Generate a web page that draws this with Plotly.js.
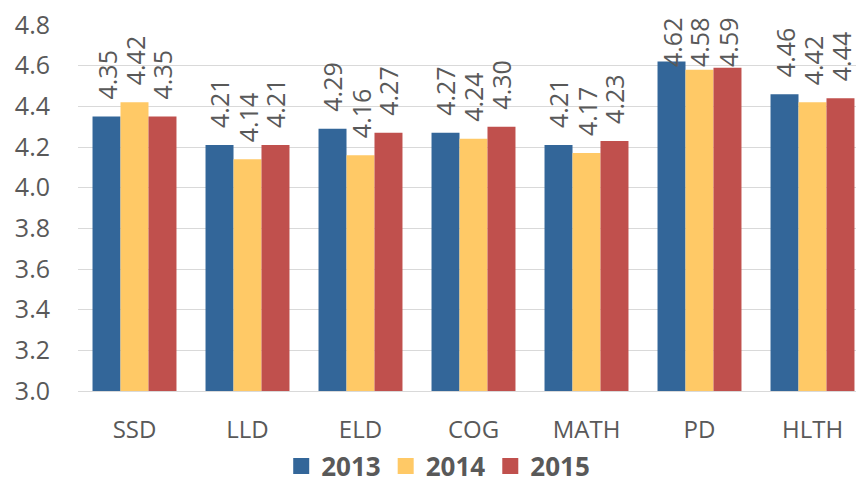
<!DOCTYPE html>
<html>
<head>
<meta charset="utf-8">
<script src="https://cdn.plot.ly/plotly-3.0.1.min.js"></script>
<style>
  html, body { margin: 0; padding: 0; background: #ffffff; }
  #chart { width: 856px; height: 487px; }
</style>
</head>
<body>
<div id="chart"></div>
<script>
const categories = ["SSD", "LLD", "ELD", "COG", "MATH", "PD", "HLTH"];
const seriesNames = ["2013", "2014", "2015"];
const values2013 = [4.35, 4.21, 4.29, 4.27, 4.21, 4.62, 4.46];
const values2014 = [4.42, 4.14, 4.16, 4.24, 4.17, 4.58, 4.42];
const values2015 = [4.35, 4.21, 4.27, 4.30, 4.23, 4.59, 4.44];
const yTickValues = [3.0, 3.2, 3.4, 3.6, 3.8, 4.0, 4.2, 4.4, 4.6, 4.8];
const yTickLabels = ["3.0", "3.2", "3.4", "3.6", "3.8", "4.0", "4.2", "4.4", "4.6", "4.8"];

const colors = ["#336699", "#FFC966", "#C0504D"];
const allValues = [values2013, values2014, values2015];
const textColor = "#595959";
const fontFamily = "'Open Sans', 'Noto Sans', sans-serif";

// layout constants
const W = 856, H = 487;
const M = { l: 78, r: 0, t: 25, b: 96 };
const yMin = 3.0, yMax = 4.8;
const xRange = [-0.5, 6.385];
const bargap = 0.257;
const plotW = W - M.l - M.r, plotH = H - M.t - M.b;
const catPx = plotW / (xRange[1] - xRange[0]);
const barPx = catPx * (1 - bargap) / allValues.length;
const labelGap = 17;      // px between bar top and label
const labelLen = 52;      // approx rotated label length
const labelTopMin = 15;   // labels may not rise above this px from the top

const traces = allValues.map((vals, i) => ({
  type: "bar",
  name: seriesNames[i],
  x: categories,
  y: vals,
  marker: { color: colors[i], line: { width: 0 } },
  showlegend: false,
  hoverinfo: "x+y"
}));

// legend-only entries with larger square swatches
seriesNames.forEach((n, i) => {
  traces.push({
    type: "scatter",
    mode: "markers",
    name: n,
    x: [null],
    y: [null],
    marker: { symbol: "square", size: 16, color: colors[i] },
    showlegend: true,
    hoverinfo: "skip"
  });
});

// data labels as rotated annotations, kept below the top limit
const annotations = [];
allValues.forEach((vals, i) => {
  vals.forEach((v, j) => {
    const barTopPx = M.t + (yMax - v) / (yMax - yMin) * plotH;
    const shift = Math.min(labelGap, barTopPx - labelTopMin - labelLen);
    annotations.push({
      x: categories[j],
      xref: "x",
      xshift: (i - (allValues.length - 1) / 2) * barPx,
      y: v,
      yref: "y",
      yanchor: "bottom",
      yshift: shift,
      text: v.toFixed(2),
      textangle: -90,
      showarrow: false,
      xanchor: "center",
      borderpad: 0,
      borderwidth: 0,
      height: 26,
      font: { family: fontFamily, size: 25, color: textColor }
    });
  });
});

const layout = {
  width: W,
  height: H,
  margin: { l: M.l, r: M.r, t: M.t, b: M.b, pad: 0, autoexpand: false },
  paper_bgcolor: "#ffffff",
  plot_bgcolor: "#ffffff",
  barmode: "group",
  bargap: bargap,
  bargroupgap: 0,
  showlegend: true,
  legend: {
    orientation: "h",
    x: 0.463,
    xanchor: "center",
    xref: "paper",
    y: -0.205,
    yanchor: "middle",
    font: { family: fontFamily, size: 26, color: textColor, weight: "bold" },
    itemwidth: 30,
    tracegroupgap: 0
  },
  annotations: annotations,
  xaxis: {
    type: "category",
    range: xRange,
    showgrid: false,
    showline: true,
    linecolor: "#d9d9d9",
    linewidth: 1,
    ticks: "",
    tickfont: { family: fontFamily, size: 24, color: textColor },
    ticklabelstandoff: 17,
    automargin: false
  },
  yaxis: {
    range: [yMin, yMax],
    tickmode: "array",
    tickvals: yTickValues,
    ticktext: yTickLabels,
    showgrid: true,
    gridcolor: "#d9d9d9",
    gridwidth: 1,
    zeroline: false,
    showline: false,
    ticks: "",
    tickfont: { family: fontFamily, size: 25, color: textColor },
    ticklabelstandoff: 27,
    automargin: false
  }
};

Plotly.newPlot("chart", traces, layout, { displayModeBar: false, staticPlot: true });
</script>
</body>
</html>
